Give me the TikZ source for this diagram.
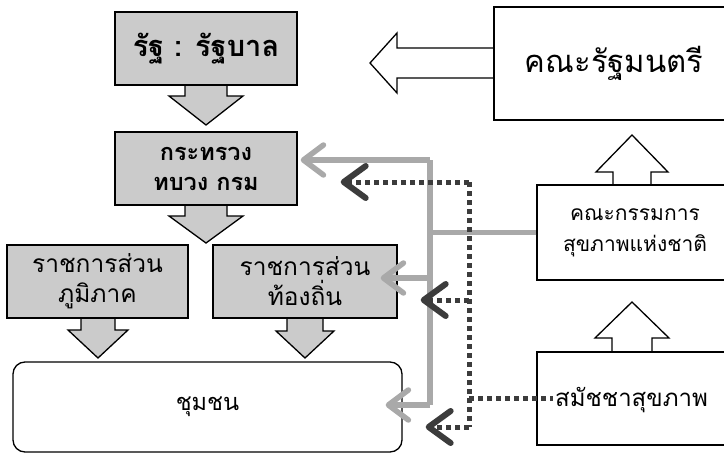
\documentclass[tikz,border=0pt]{standalone}
\usepackage{fontspec}
\newfontfamily\thai[Script=Thai]{Loma}
\usetikzlibrary{arrows.meta,calc}
\definecolor{boxgray}{HTML}{CBCBCB}
\definecolor{feedgray}{HTML}{A9A9A9}
\definecolor{dotgray}{HTML}{3C3C3C}
\newcommand\blockdown[7]{%
  \filldraw[#7] ({#1-#5},#2) -- ({#1-#5},#3) -- ({#1-#6},#3) -- (#1,#4)
    -- ({#1+#6},#3) -- ({#1+#5},#3) -- ({#1+#5},#2);}
\newcommand\blockleft[7]{%
  \filldraw[#7] (#2,{#1-#5}) -- (#3,{#1-#5}) -- (#3,{#1-#6}) -- (#4,#1)
    -- (#3,{#1+#6}) -- (#3,{#1+#5}) -- (#2,{#1+#5});}
\begin{document}
\begin{tikzpicture}[x=1pt,y=-1pt,
  grbox/.style={draw=black,line width=1.4pt,fill=boxgray,inner sep=0pt,align=center},
  wbox/.style={draw=black,line width=1.3pt,fill=white,inner sep=0pt,align=center},
  garrow/.style={draw=black,line width=1.3pt,fill=boxgray,line join=miter},
  warrow/.style={draw=black,line width=1.3pt,fill=white,line join=miter},
  txt/.style={font=\thai\fontsize{#1}{30}\selectfont},
  btxt/.style={font=\thai\bfseries\fontsize{#1}{30}\selectfont},
  feed/.style={draw=feedgray,line width=5.5pt},
  gtip/.style={-{Straight Barb[length=20pt,width=30pt,line width=5.5pt,round]}},
  dotc/.style={draw=dotgray,line width=5pt,dash pattern=on 5pt off 4pt},
  dtip/.style={-{Straight Barb[length=22pt,width=32pt,line width=6pt,round]}},
]
\clip (0,0) rectangle (724,455);
\fill[white] (0,0) rectangle (724,455);
% block arrows
\blockdown{206}{85}{96}{125}{21}{37}{garrow}
\blockdown{206}{205}{216}{243}{21}{37}{garrow}
\blockdown{98}{318}{330}{358}{17}{30}{garrow}
\blockdown{305}{318}{331}{358}{18}{29}{garrow}
\blockdown{632}{185}{172}{135}{19}{36}{warrow}
\blockdown{632}{352}{338}{302}{20}{37}{warrow}
\blockleft{63}{494}{397}{370}{15}{30}{warrow}
% boxes
\node[grbox,btxt=29,minimum width=182pt,minimum height=73pt] (state) at (206,48.5)
  {รัฐ : รัฐบาล};
\node[grbox,btxt=23.5,minimum width=182pt,minimum height=73pt] (ministry) at (206,168.5)
  {กระทรวง\\ทบวง กรม};
\node[grbox,txt=24.5,minimum width=181pt,minimum height=73pt] (region) at (97.5,281.5)
  {ราชการส่วน\\ภูมิภาค};
\node[grbox,txt=24.5,minimum width=184pt,minimum height=73pt] (local) at (305,281.5)
  {ราชการส่วน\\ท้องถิ่น};
\node[wbox,txt=23.5,rounded corners=12pt,minimum width=389pt,minimum height=90pt] (community) at (207.5,407)
  {ชุมชน};
\node[wbox,txt=31,minimum width=240pt,minimum height=113pt] (cabinet) at (614,63.5)
  {คณะรัฐมนตรี};
\node[wbox,font=\thai\fontsize{21}{31}\selectfont,minimum width=196pt,minimum height=95pt] (nhc) at (635,232.5)
  {คณะกรรมการ\\สุขภาพแห่งชาติ};
\node[wbox,minimum width=196pt,minimum height=93pt] (assembly) at (635,398.5) {};
\node[txt=24,anchor=west,inner sep=0pt] (asmtext) at (555,400) {สมัชชาสุขภาพ};
% gray (solid) connectors
\coordinate (g1) at (430,160);
\coordinate (g2) at (430,278);
\coordinate (g3) at (430,405);
\draw[feed] (nhc.west) -- (nhc.west -| g1);
\draw[feed] (g3) -- (g1);
\draw[feed,gtip] (g1) -- ([xshift=3pt]ministry.east |- g1);
\draw[feed,gtip] (g2) -- ([xshift=-17pt]local.east |- g2);
\draw[feed,gtip] (g3) -- ([xshift=-17pt]community.east |- g3);
% dotted connectors
\coordinate (d1) at (469,182);
\coordinate (d2) at (469,300);
\coordinate (d3) at (469,427);
\coordinate (d4) at (469,398);
\draw[dotc] (d1) -- (d3);
\draw[dotc,dtip] (d1) -- ([xshift=43pt]ministry.east |- d1);
\draw[dotc,dtip] (d2) -- ([xshift=23pt]local.east |- d2);
\draw[dotc,dtip] (d3) -- ([xshift=23pt]community.east |- d3);
\draw[dotc] (d4) -- ([xshift=-2pt]asmtext.west |- d4);
\end{tikzpicture}
\end{document}
